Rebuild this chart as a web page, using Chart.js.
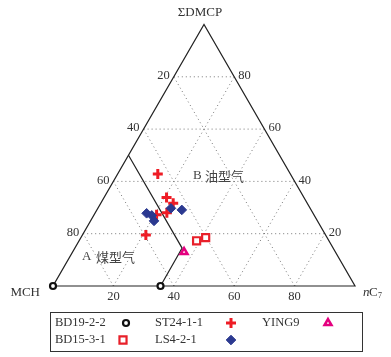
<!DOCTYPE html>
<html>
<head>
<meta charset="utf-8">
<script src="https://cdn.jsdelivr.net/npm/chart.js@4/dist/chart.umd.min.js"></script>
<style>
html, body { margin: 0; padding: 0; background: #fff; }
#wrap { width: 391px; height: 357px; }
</style>
</head>
<body>
<div id="wrap"><canvas id="ternChart" width="391" height="357"></canvas></div>
<script>
// Ternary data: nC7 % and ΣDMCP % (MCH = remainder)
const bd19NC7 = [0, 35.6];
const bd19DMCP = [0, 0];
const bd15NC7 = [38.9, 41.3];
const bd15DMCP = [17.3, 18.5];
const st24NC7 = [13.3, 20.7, 24.0, 23.7, 20.7, 21.0];
const st24DMCP = [42.8, 33.8, 31.6, 28.0, 27.2, 19.5];
const ls4NC7 = [24.2, 28.1, 17.1, 19.2, 21.0];
const ls4DMCP = [29.7, 29.1, 27.8, 27.0, 24.9];
const yingNC7 = [36.9];
const yingDMCP = [13.0];

// grid levels and tick labels
const gridLevels = [20, 40, 60, 80];
const bottomTicks = ['20', '40', '60', '80'];   // nC7
const leftTicks = ['80', '60', '40', '20'];     // at ΣDMCP 20..80
const rightTicks = ['20', '40', '60', '80'];    // at ΣDMCP 20..80

// A / B boundary (nC7, ΣDMCP)
const boundNC7 = [0, 35.5, 35.6];
const boundDMCP = [50, 14.5, 0];

function toXY(nc7, dmcp) {
    return nc7.map((n, i) => ({ x: n + dmcp[i] / 2, y: dmcp[i] }));
}

const serif = '"Liberation Serif", "DejaVu Serif", serif';
const textCol = '#333';

const ternaryFrame = {
    id: 'ternaryFrame',
    beforeDatasetsDraw(chart) {
        const ctx = chart.ctx;
        const xs = chart.scales.x, ys = chart.scales.y;
        const P = (n, d) => [xs.getPixelForValue(n + d / 2), ys.getPixelForValue(d)];
        const seg = (a, b) => {
            ctx.beginPath();
            ctx.moveTo(a[0], a[1]);
            ctx.lineTo(b[0], b[1]);
            ctx.stroke();
        };
        ctx.save();

        // dotted grid
        ctx.strokeStyle = '#777';
        ctx.lineWidth = 1;
        ctx.setLineDash([1, 3]);
        gridLevels.forEach(v => {
            seg(P(0, v), P(100 - v, v));
            seg(P(v, 0), P(v, 100 - v));
            seg(P(100 - v, 0), P(0, 100 - v));
        });
        ctx.setLineDash([]);

        // triangle frame
        ctx.strokeStyle = '#222';
        ctx.lineWidth = 1.2;
        ctx.beginPath();
        const a = P(0, 0), b = P(100, 0), c = P(0, 100);
        ctx.moveTo(a[0], a[1]);
        ctx.lineTo(b[0], b[1]);
        ctx.lineTo(c[0], c[1]);
        ctx.closePath();
        ctx.stroke();

        // boundary between coal-type and oil-type gas
        ctx.beginPath();
        boundNC7.forEach((n, i) => {
            const p = P(n, boundDMCP[i]);
            if (i === 0) ctx.moveTo(p[0], p[1]); else ctx.lineTo(p[0], p[1]);
        });
        ctx.stroke();

        // tick labels
        ctx.fillStyle = textCol;
        ctx.font = '12.5px ' + serif;
        ctx.textBaseline = 'middle';
        gridLevels.forEach((v, i) => {
            let p = P(0, v);
            ctx.textAlign = 'right';
            ctx.fillText(leftTicks[i], p[0] - 4, p[1] - 1);
            p = P(100 - v, v);
            ctx.textAlign = 'left';
            ctx.fillText(rightTicks[i], p[0] + 4, p[1] - 1);
            p = P(v, 0);
            ctx.textAlign = 'center';
            ctx.fillText(bottomTicks[i], p[0], p[1] + 11);
        });

        // vertex titles
        ctx.textAlign = 'center';
        ctx.font = '13px ' + serif;
        ctx.fillText('\u03A3DMCP', c[0] - 4, c[1] - 12);
        ctx.textAlign = 'right';
        ctx.fillText('MCH', a[0] - 13, a[1] + 7);
        ctx.textAlign = 'left';
        ctx.font = 'italic 13px ' + serif;
        ctx.fillText('n', b[0] + 8, b[1] + 7);
        ctx.font = '13px ' + serif;
        ctx.fillText('C', b[0] + 14, b[1] + 7);
        ctx.font = '8px ' + serif;
        ctx.fillText('7', b[0] + 23, b[1] + 10);

        // region labels
        ctx.fillStyle = '#444';
        ctx.font = '13px ' + serif;
        ctx.textAlign = 'left';
        ctx.fillText('B', 193, 176);
        ctx.fillText('A', 82, 257);
        ctx.font = '13px "Noto Sans CJK SC", sans-serif';
        ctx.fillText('油型气', 205, 176);
        ctx.fillText('煤型气', 96, 257);

        ctx.restore();
    },
    afterDraw(chart) {
        const ctx = chart.ctx;
        ctx.save();
        ctx.strokeStyle = '#333';
        ctx.lineWidth = 1;
        ctx.strokeRect(50.5, 312.5, 312, 39);

        const rows = [
            { label: 'BD19-2-2', tx: 55, mx: 126, y: 323, ds: 0 },
            { label: 'ST24-1-1', tx: 155, mx: 231, y: 323, ds: 2 },
            { label: 'YING9', tx: 262, mx: 328, y: 323, ds: 4 },
            { label: 'BD15-3-1', tx: 55, mx: 123, y: 340, ds: 1 },
            { label: 'LS4-2-1', tx: 155, mx: 231, y: 340, ds: 3 }
        ];
        rows.forEach(r => {
            ctx.fillStyle = textCol;
            ctx.font = '12.5px ' + serif;
            ctx.textAlign = 'left';
            ctx.textBaseline = 'middle';
            ctx.fillText(r.label, r.tx, r.y);
            const d = chart.data.datasets[r.ds];
            ctx.strokeStyle = d.borderColor;
            ctx.fillStyle = d.backgroundColor;
            ctx.lineWidth = d.borderWidth;
            Chart.helpers.drawPoint(ctx, {
                pointStyle: d.pointStyle,
                radius: d.pointRadius,
                borderWidth: d.borderWidth,
                rotation: 0
            }, r.mx, r.y);
        });
        ctx.restore();
    }
};

new Chart(document.getElementById('ternChart'), {
    type: 'scatter',
    data: {
        datasets: [
            {
                label: 'BD19-2-2',
                data: toXY(bd19NC7, bd19DMCP),
                pointStyle: 'circle',
                pointRadius: 3,
                borderWidth: 2.2,
                borderColor: '#111',
                backgroundColor: '#fff',
                order: 1
            },
            {
                label: 'BD15-3-1',
                data: toXY(bd15NC7, bd15DMCP),
                pointStyle: 'rect',
                pointRadius: 5,
                borderWidth: 2.2,
                borderColor: '#e8202a',
                backgroundColor: '#fff',
                order: 1
            },
            {
                label: 'ST24-1-1',
                data: toXY(st24NC7, st24DMCP),
                pointStyle: 'cross',
                pointRadius: 5,
                borderWidth: 3,
                borderColor: '#ee1c25',
                backgroundColor: '#ee1c25',
                order: 3
            },
            {
                label: 'LS4-2-1',
                data: toXY(ls4NC7, ls4DMCP),
                pointStyle: 'rectRot',
                pointRadius: 4.8,
                borderWidth: 1,
                borderColor: '#2b3990',
                backgroundColor: '#2b3990',
                order: 2
            },
            {
                label: 'YING9',
                data: toXY(yingNC7, yingDMCP),
                pointStyle: 'triangle',
                pointRadius: 4,
                borderWidth: 2.5,
                borderColor: '#e4007f',
                backgroundColor: '#fff',
                order: 1
            }
        ]
    },
    options: {
        responsive: false,
        animation: false,
        events: [],
        layout: { padding: 0, autoPadding: false },
        plugins: {
            legend: { display: false },
            tooltip: { enabled: false }
        },
        scales: {
            x: { type: 'linear', display: false, min: -17.55, max: 111.92 },
            y: { type: 'linear', display: false, min: -27.15, max: 109.37 }
        }
    },
    plugins: [ternaryFrame]
});
</script>
</body>
</html>
